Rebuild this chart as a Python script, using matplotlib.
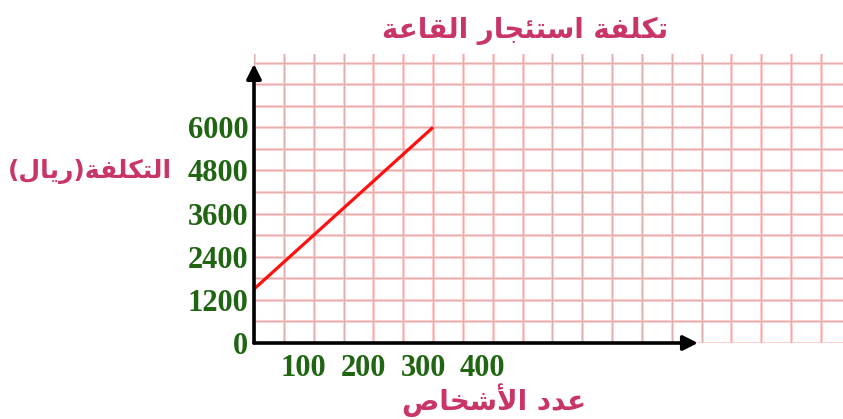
import matplotlib.pyplot as plt
from matplotlib.transforms import ScaledTranslation

# data
people = [0, 300]
cost = [1500, 6000]
x_ticks = [100, 200, 300, 400]
y_ticks = [0, 1200, 2400, 3600, 4800, 6000]
x_grid = list(range(0, 1000, 50))
y_grid = list(range(0, 8400, 600))

title = "تكلفة استئجار القاعة"
x_label = "عدد الأشخاص"
y_label = "التكلفة(ريال)"

green = "#1f6512"
pink = "#c93565"

# small arabic shaper: presentation forms (iso, fin, ini, med)
forms = {
    'ا': '\uFE8D\uFE8E', 'أ': '\uFE83\uFE84', 'ة': '\uFE93\uFE94',
    'د': '\uFEA9\uFEAA', 'ر': '\uFEAD\uFEAE',
    'ت': '\uFE95\uFE96\uFE97\uFE98', 'ئ': '\uFE89\uFE8A\uFE8B\uFE8C',
    'ج': '\uFE9D\uFE9E\uFE9F\uFEA0', 'خ': '\uFEA5\uFEA6\uFEA7\uFEA8',
    'س': '\uFEB1\uFEB2\uFEB3\uFEB4', 'ش': '\uFEB5\uFEB6\uFEB7\uFEB8',
    'ص': '\uFEB9\uFEBA\uFEBB\uFEBC', 'ع': '\uFEC9\uFECA\uFECB\uFECC',
    'ف': '\uFED1\uFED2\uFED3\uFED4', 'ق': '\uFED5\uFED6\uFED7\uFED8',
    'ك': '\uFED9\uFEDA\uFEDB\uFEDC', 'ل': '\uFEDD\uFEDE\uFEDF\uFEE0',
    'ي': '\uFEF1\uFEF2\uFEF3\uFEF4',
}
lam_alef = {'ا': '\uFEFB\uFEFC', 'أ': '\uFEF7\uFEF8'}


def shape(text):
    units = []
    i = 0
    while i < len(text):
        ch = text[i]
        if ch == 'ل' and i + 1 < len(text) and text[i + 1] in lam_alef:
            units.append(lam_alef[text[i + 1]])
            i += 2
        else:
            units.append(forms.get(ch, ch))
            i += 1
    out = []
    for k, f in enumerate(units):
        if len(f) == 1:
            out.append(f)
            continue
        prev = units[k - 1] if k > 0 else ''
        nxt = units[k + 1] if k + 1 < len(units) else ''
        join_prev = len(prev) == 4
        join_next = len(f) == 4 and len(nxt) >= 2
        out.append(f[(1 if join_prev else 0) + (2 if join_next else 0)])
    visual = ''.join(reversed(out))
    return visual.translate(str.maketrans('()', ')('))


W, H = 843, 419
fig = plt.figure(figsize=(W / 100, H / 100), dpi=100)
ax = fig.add_axes([254 / W, 76 / H, (W - 254) / W, (343 - 54) / H])
ax.set_xlim(0, 987)
ax.set_ylim(0, 8039)
for s in ax.spines.values():
    s.set_visible(False)

# pink graph paper
for x in x_grid:
    ax.axvline(x, color='#ffcfcf', lw=2.2, zorder=1)
    ax.axvline(x, color='#c49a9a', lw=0.4, zorder=1.1)
for y in y_grid:
    ax.axhline(y, color='#ffcfcf', lw=2.2, zorder=1)
    ax.axhline(y, color='#c49a9a', lw=0.4, zorder=1.1)

ax.plot(people, cost, color='#ff1010', lw=2.3, solid_capstyle='butt', zorder=3)

# axes with arrows
arrow = dict(arrowstyle='-|>', color='black', lw=2.6, mutation_scale=22,
             shrinkA=0, shrinkB=0)
ax.annotate('', xy=(0, 7761), xytext=(0, 0), arrowprops=arrow,
            annotation_clip=False, zorder=4)
ax.annotate('', xy=(744, 0), xytext=(0, 0), arrowprops=arrow,
            annotation_clip=False, zorder=4)

ax.set_xticks(x_ticks, labels=[str(v) for v in x_ticks],
              fontfamily='Liberation Serif', fontweight='bold')
ax.set_yticks(y_ticks, labels=[str(v) for v in y_ticks],
              fontfamily='Liberation Serif', fontweight='bold')
ax.tick_params(axis='x', length=0, pad=8, labelsize=22, labelcolor=green)
ax.tick_params(axis='y', length=0, pad=4, labelsize=22, labelcolor=green)
for lbl in ax.get_xticklabels():
    lbl.set_transform(lbl.get_transform() + ScaledTranslation(-0.1, 0, fig.dpi_scale_trans))

fig.text(525 / W, 1 - 31 / H, shape(title), ha='center', va='center',
         fontsize=20, fontweight='bold', color=pink, family='DejaVu Sans')
fig.text(90 / W, 1 - 172 / H, shape(y_label), ha='center', va='center',
         fontsize=18, fontweight='bold', color=pink, family='DejaVu Sans')
fig.text(494 / W, 1 - 400 / H, shape(x_label), ha='center', va='center',
         fontsize=20, fontweight='bold', color=pink, family='DejaVu Sans')

fig.savefig('out.png', dpi=100)
